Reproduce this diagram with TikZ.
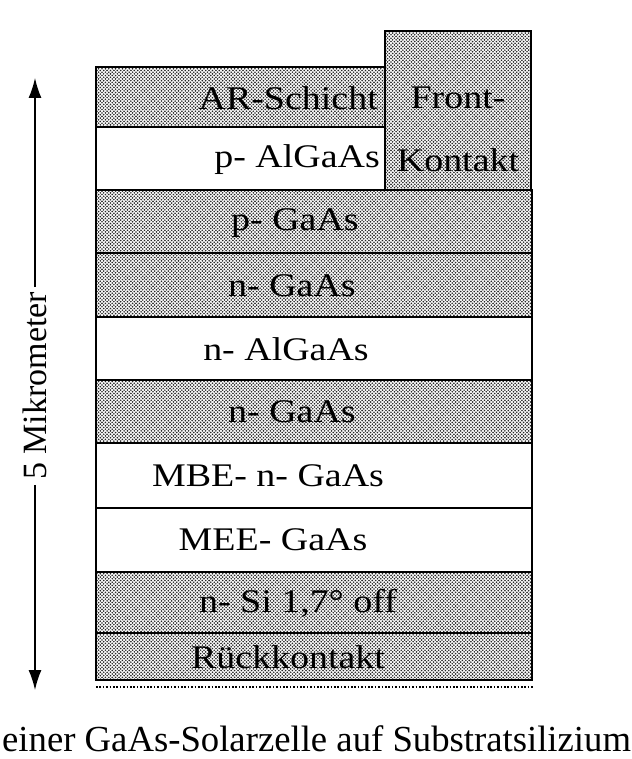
\documentclass[tikz,border=0pt]{standalone}
\usepackage{fontspec}
\setmainfont{Liberation Serif}
\usetikzlibrary{patterns,arrows.meta}
\pgfdeclarepatternformonly{densedots}{\pgfqpoint{-1pt}{-1pt}}{\pgfqpoint{4pt}{4pt}}{\pgfqpoint{3.4pt}{3.4pt}}{%
  \pgfpathcircle{\pgfqpoint{0pt}{0pt}}{0.9pt}%
  \pgfpathcircle{\pgfqpoint{1.7pt}{1.7pt}}{0.9pt}%
  \pgfusepath{fill}}
\newcommand\wtxt[1]{\scalebox{1.15}[1]{#1}}
\begin{document}
\begin{tikzpicture}[x=1pt,y=-1pt,
  layer/.style={draw=black,line width=1.8pt},
  dotlayer/.style={layer,pattern=densedots,pattern color=black!85},
  plainlayer/.style={layer,fill=white},
  lbl/.style={font=\fontsize{33}{34}\selectfont,inner sep=0pt,anchor=center},
  rlbl/.style={lbl,anchor=east},
  dimtxt/.style={font=\fontsize{34}{36}\selectfont,inner sep=0pt,outer sep=5pt,rotate=90},
  captxt/.style={font=\fontsize{36.7}{39}\selectfont,inner sep=0pt,anchor=base west}]
\useasboundingbox (0,0) rectangle (631,759);
\fill[white] (0,0) rectangle (631,759);
% layers
\draw[dotlayer]   (96,67)  rectangle (385,127);
\draw[plainlayer] (96,127) rectangle (385,190);
\draw[dotlayer]   (385,31) rectangle (531,190);
\draw[dotlayer]   (96,190) rectangle (532,253);
\draw[dotlayer]   (96,253) rectangle (532,317);
\draw[plainlayer] (96,317) rectangle (532,380);
\draw[dotlayer]   (96,380) rectangle (532,443);
\draw[plainlayer] (96,443) rectangle (532,508);
\draw[plainlayer] (96,508) rectangle (532,572);
\draw[dotlayer]   (96,572) rectangle (532,633);
\draw[dotlayer]   (96,633) rectangle (532,680);
\coordinate (dl) at (96,687);
\coordinate (dr) at (533,687);
\draw[line width=2.2pt,dash pattern=on 1.6pt off 1.8pt] (dl) -- (dr);
% labels
\node[rlbl] (ar)   at (378,98)  {\wtxt{AR-Schicht}};
\node[rlbl] (palg) at (380,160) {\wtxt{p- AlGaAs}};
\node[lbl]  (fr1)  at (458,98)  {\wtxt{Front-}};
\node[lbl]  (fr2)  at (458,160) {\wtxt{Kontakt}};
\node[lbl]  (pga)  at (295,223) {\wtxt{p- GaAs}};
\node[lbl]  (nga1) at (292,286) {\wtxt{n- GaAs}};
\node[lbl]  (nalg) at (286,349) {\wtxt{n- AlGaAs}};
\node[lbl]  (nga2) at (292,412) {\wtxt{n- GaAs}};
\node[lbl]  (mbe)  at (268,476) {\wtxt{MBE- n- GaAs}};
\node[lbl]  (mee)  at (273,540) {\wtxt{MEE- GaAs}};
\node[lbl]  (nsi)  at (298,603) {\wtxt{n- Si 1,7° off}};
\node[lbl]  (rk)   at (288,657) {\wtxt{Rückkontakt}};
% dimension arrow
\coordinate (atop) at (35,78);
\coordinate (abot) at (35,690);
\node[dimtxt] (dim) at (35,386) {5 Mikrometer};
\draw[line width=1.5pt,-{Latex[length=20pt,width=13pt]}] (dim.east) -- (atop);
\draw[line width=1.5pt,-{Latex[length=20pt,width=13pt]}] (dim.west) -- (abot);
% caption
\node[captxt] (caption) at (2,751) {einer GaAs-Solarzelle auf Substratsilizium};
\end{tikzpicture}
\end{document}
